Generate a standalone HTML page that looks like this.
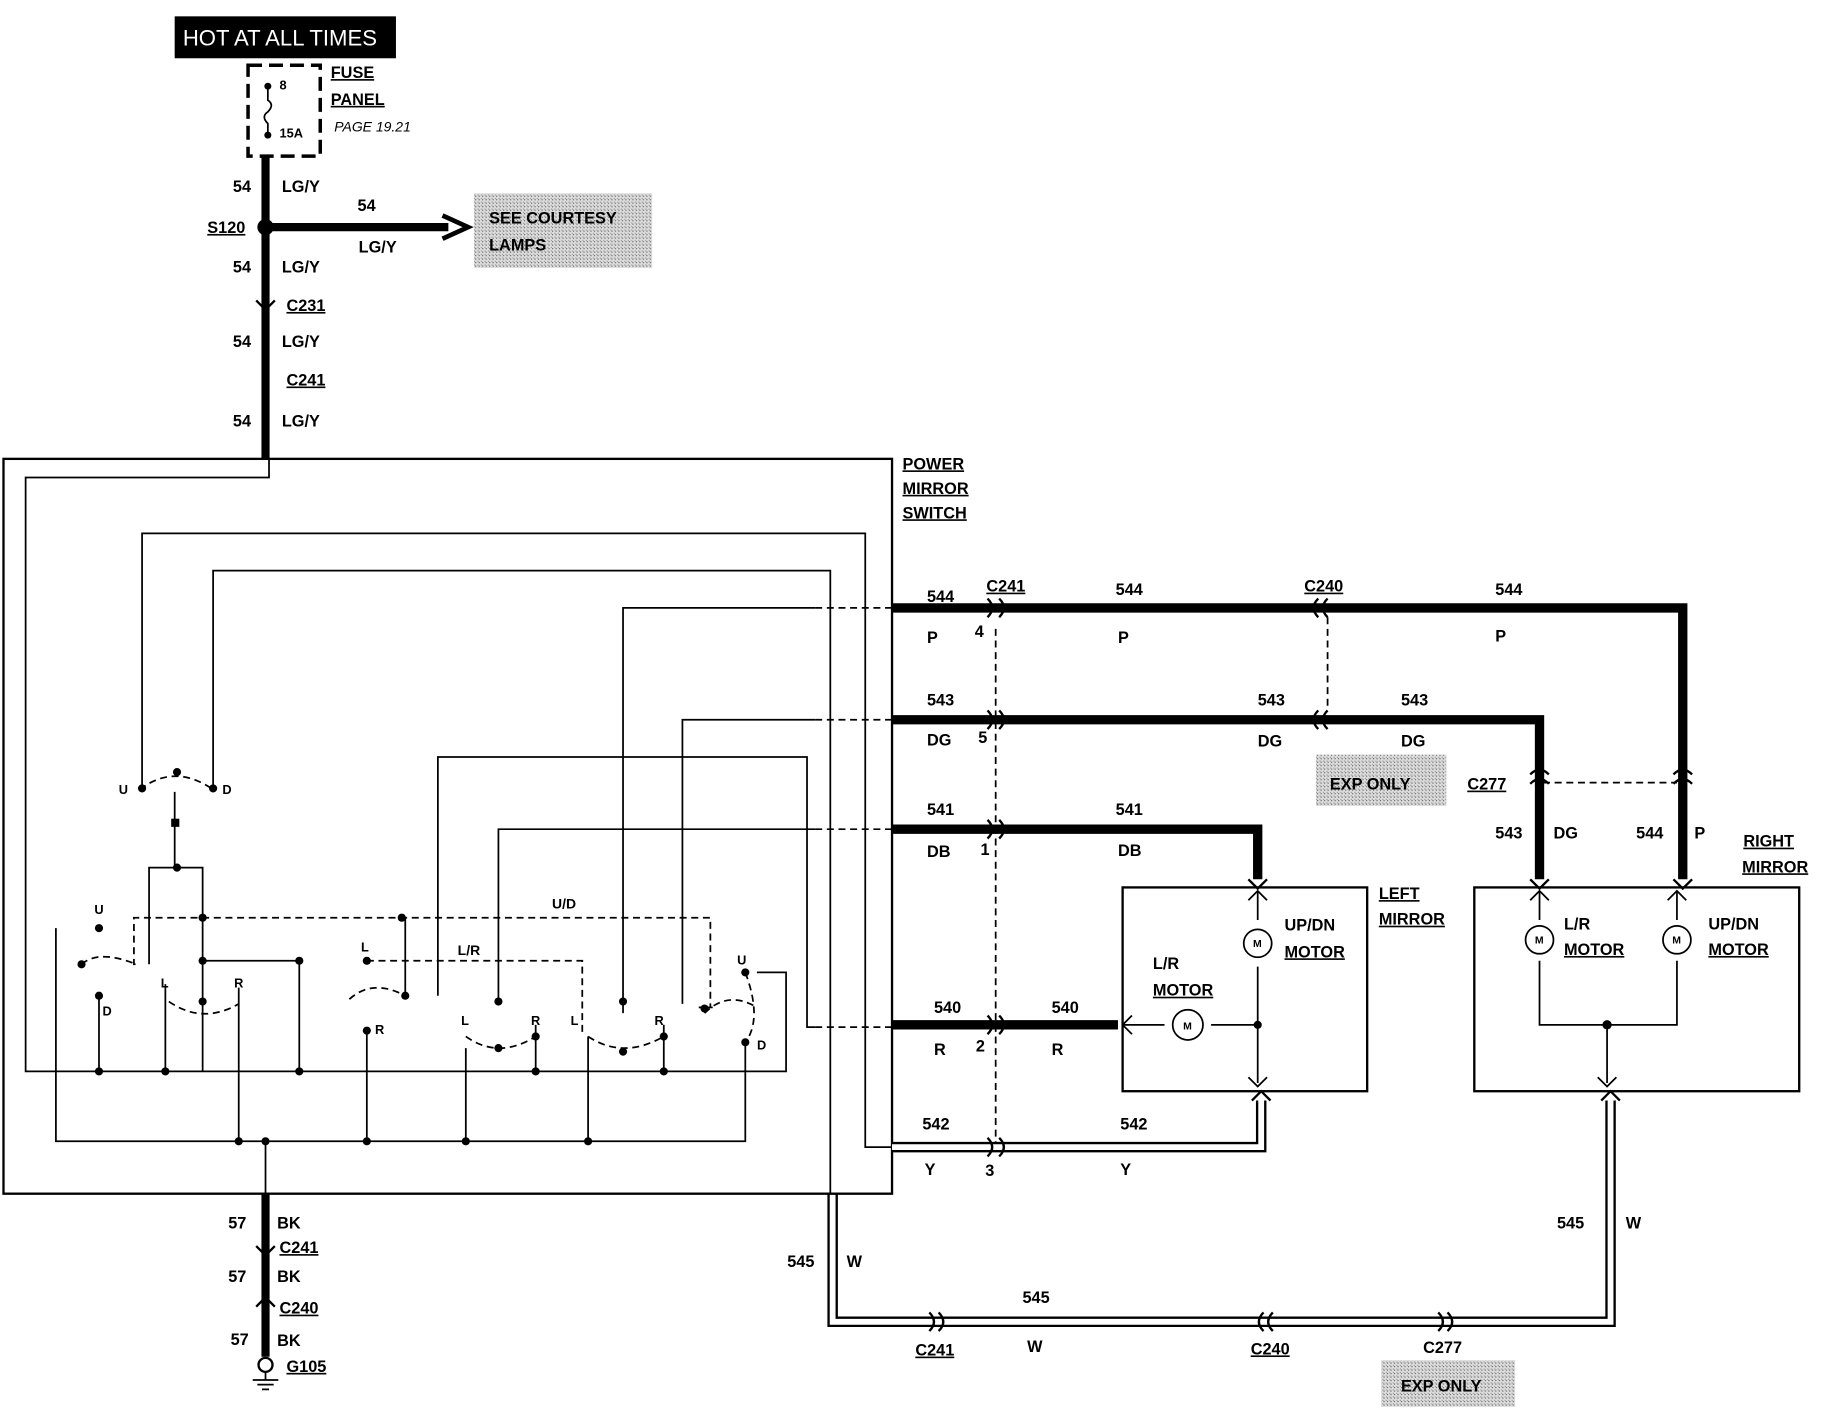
<!DOCTYPE html>
<html><head><meta charset="utf-8"><style>
html,body{margin:0;padding:0;background:#fff;}
svg{display:block}
text{font-family:"Liberation Sans",sans-serif;font-weight:bold;font-size:14px;fill:#000}
.u{text-decoration:underline}
</style></head><body>
<svg width="1826" height="1408" viewBox="0 0 1568 1209" xmlns="http://www.w3.org/2000/svg">
<defs>
<pattern id="g" width="3" height="3" patternUnits="userSpaceOnUse"><rect width="3" height="3" fill="#ddd"/><rect width="1" height="1" fill="#666"/><rect x="2" y="2" width="1" height="1" fill="#999"/></pattern>
</defs>
<rect x="150" y="14" width="190" height="36" fill="#000"/>
<text x="157" y="39" style="fill:#fff;font-size:19px;font-weight:normal">HOT AT ALL TIMES</text>
<rect x="213" y="56" width="62" height="78" fill="none" stroke="#000" stroke-width="3" stroke-dasharray="12,6"/>
<text x="240" y="77" style="font-size:11px">8</text><text x="240" y="118" style="font-size:11px">15A</text>
<circle cx="230" cy="74" r="3"/><circle cx="230" cy="116" r="3"/>
<path d="M230 74 v12 q6 4 0 10 q-6 4 0 10 v10" fill="none" stroke="#000" stroke-width="1.5"/>
<text x="284" y="67" class="u">FUSE</text><text x="284" y="90" class="u">PANEL</text>
<text x="287" y="113" style="font-style:italic;font-size:12px;font-weight:normal">PAGE 19.21</text>
<line x1="228" y1="134" x2="228" y2="395" stroke="#000" stroke-width="7"/>
<circle cx="228" cy="195" r="7"/>
<line x1="228" y1="195" x2="385" y2="195" stroke="#000" stroke-width="7"/>
<path d="M380 185 L402 195 L380 205" fill="none" stroke="#000" stroke-width="4"/>
<rect x="407" y="166" width="153" height="64" fill="url(#g)"/>
<text x="420" y="192">SEE COURTESY</text><text x="420" y="215">LAMPS</text>
<text x="200" y="165">54</text><text x="242" y="165">LG/Y</text>
<text x="307" y="181">54</text><text x="308" y="217">LG/Y</text>
<text x="178" y="200" class="u">S120</text>
<text x="200" y="234">54</text><text x="242" y="234">LG/Y</text>
<text x="246" y="267" class="u">C231</text><path d="M220 258 l8 8 l8 -8" fill="none" stroke="#000" stroke-width="2"/>
<text x="200" y="298">54</text><text x="242" y="298">LG/Y</text>
<text x="246" y="331" class="u">C241</text>
<text x="200" y="366">54</text><text x="242" y="366">LG/Y</text>
<!-- switch box -->
<rect x="3" y="394" width="763" height="631" fill="none" stroke="#000" stroke-width="2"/>
<text x="775" y="403" class="u">POWER</text><text x="775" y="424" class="u">MIRROR</text><text x="775" y="445" class="u">SWITCH</text>
<g fill="none" stroke="#000" stroke-width="1.5">
<path d="M231 395 V410 H22 V920 H675 V835 H650"/>
<path d="M122 675 V458 H743 V985 H766"/>
<path d="M183 675 V490 H713 V1025"/>
<path d="M535 870 V522 H700"/>
<path d="M428 860 V712 H700"/>
<path d="M586 862 V618 H700"/>
<path d="M376 855 V650 H693 V882 H700"/>
<path d="M48 797 V980 H640 V895"/>
<path d="M228 980 V1025"/>
<path d="M128 828 V745 H174 V920 M150 745 V680"/>
<path d="M174 825 H257 V920 M85 920 V855 M142 920 V845 M205 980 V848 M315 980 V885 M400 980 V900 M505 980 V890 M460 920 V880 M570 920 V880 M348 855 V788 M600 865 H612"/>
</g>
<g fill="none" stroke="#000" stroke-width="1.5" stroke-dasharray="6,4">
<path d="M700 522 H766 M700 618 H766 M700 712 H766 M700 882 H766"/>
<path d="M855 540 V985"/>
<path d="M1140 530 V610 M1325 672 H1440"/>
<path d="M120 678 Q150 655 183 678 M70 828 Q85 815 117 828 H115 V788 H610 V865 M300 858 Q320 840 348 855 M315 825 H500 V890 M145 860 Q174 880 205 862 M400 890 Q428 910 460 890 M505 890 Q535 910 570 890 M605 870 Q625 850 650 865 M640 835 Q655 875 640 895"/>
</g>
<g><circle cx="122" cy="677" r="3.5"/><circle cx="183" cy="677" r="3.5"/><circle cx="152" cy="663" r="3.5"/><rect x="147" y="703" width="7" height="7"/><circle cx="152" cy="745" r="3.5"/>
<circle cx="85" cy="797" r="3.5"/><circle cx="85" cy="855" r="3.5"/><circle cx="70" cy="828" r="3.5"/><circle cx="174" cy="788" r="3.5"/><circle cx="174" cy="825" r="3.5"/><circle cx="174" cy="860" r="3.5"/><circle cx="257" cy="825" r="3.5"/><circle cx="345" cy="788" r="3.5"/>
<circle cx="315" cy="825" r="3.5"/><circle cx="315" cy="885" r="3.5"/><circle cx="348" cy="855" r="3.5"/><circle cx="428" cy="860" r="3.5"/><circle cx="428" cy="900" r="3.5"/><circle cx="460" cy="890" r="3.5"/><circle cx="535" cy="860" r="3.5"/><circle cx="535" cy="903" r="3.5"/><circle cx="570" cy="890" r="3.5"/><circle cx="640" cy="835" r="3.5"/><circle cx="640" cy="895" r="3.5"/><circle cx="605" cy="866" r="3.5"/>
<circle cx="85" cy="920" r="3.5"/><circle cx="142" cy="920" r="3.5"/><circle cx="257" cy="920" r="3.5"/><circle cx="460" cy="920" r="3.5"/><circle cx="570" cy="920" r="3.5"/>
<circle cx="205" cy="980" r="3.5"/><circle cx="228" cy="980" r="3.5"/><circle cx="315" cy="980" r="3.5"/><circle cx="400" cy="980" r="3.5"/><circle cx="505" cy="980" r="3.5"/></g>
<g style="font-size:11px"><text x="102" y="682" style="font-size:11px">U</text><text x="191" y="682" style="font-size:11px">D</text><text x="81" y="785" style="font-size:11px">U</text><text x="88" y="872" style="font-size:11px">D</text><text x="138" y="848" style="font-size:11px">L</text><text x="201" y="848" style="font-size:11px">R</text><text x="310" y="817" style="font-size:11px">L</text><text x="322" y="888" style="font-size:11px">R</text><text x="396" y="880" style="font-size:11px">L</text><text x="456" y="880" style="font-size:11px">R</text><text x="490" y="880" style="font-size:11px">L</text><text x="562" y="880" style="font-size:11px">R</text><text x="633" y="828" style="font-size:11px">U</text><text x="650" y="901" style="font-size:11px">D</text><text x="474" y="780" style="font-size:12px">U/D</text><text x="393" y="820" style="font-size:12px">L/R</text></g>
<!-- right wires -->
<g fill="none" stroke="#000" stroke-width="8">
<path d="M766 522 H1445 V755"/><path d="M766 618 H1322 V755"/><path d="M766 712 H1080 V755"/><path d="M766 880 H960"/>
</g>
<g fill="none" stroke="#000" stroke-width="9"><path d="M766 985 H1083 V945"/><path d="M715 1025 V1135 H1383 V945"/></g>
<g fill="none" stroke="#fff" stroke-width="5"><path d="M766 985 H1083 V945"/><path d="M715 1026 V1135 H1383 V945"/></g>
<g fill="none" stroke="#000" stroke-width="2">
<path d="M848 514 q8 8 0 16 M858 514 q8 8 0 16 M848 610 q8 8 0 16 M858 610 q8 8 0 16 M848 704 q8 8 0 16 M858 704 q8 8 0 16 M848 872 q8 8 0 16 M858 872 q8 8 0 16 M848 977 q8 8 0 16 M858 977 q8 8 0 16 M1140 514 q-8 8 0 16 M1132 514 q-8 8 0 16 M1140 610 q-8 8 0 16 M1132 610 q-8 8 0 16 M1314 665 q8 -8 16 0 M1314 673 q8 -8 16 0 M1437 665 q8 -8 16 0 M1437 673 q8 -8 16 0 M798 1127 q8 8 0 16 M806 1127 q8 8 0 16 M1093 1127 q-8 8 0 16 M1085 1127 q-8 8 0 16 M1235 1127 q8 8 0 16 M1243 1127 q8 8 0 16 M1072 755 l8 8 l8 -8 M1314 755 l8 8 l8 -8 M1437 755 l8 8 l8 -8 M1375 945 l8 -8 l8 8 M1075 945 l8 -8 l8 8"/>
</g>
<!-- mirrors -->
<rect x="964" y="762" width="210" height="175" fill="none" stroke="#000" stroke-width="2"/>
<rect x="1266" y="762" width="279" height="175" fill="none" stroke="#000" stroke-width="2"/>
<g fill="none" stroke="#000" stroke-width="1.5">
<path d="M1080 765 V790 M1080 830 V930 M1080 880 H1040 M1000 880 H964 M1322 765 V790 M1322 825 V880 H1440 V825 M1440 765 V790 M1380 880 V930"/>
<circle cx="1080" cy="810" r="12"/><circle cx="1020" cy="880" r="13"/><circle cx="1322" cy="807" r="12"/><circle cx="1440" cy="807" r="12"/>
<path d="M1072 773 l8 -8 l8 8 M1314 773 l8 -8 l8 8 M1432 773 l8 -8 l8 8 M972 872 l-8 8 l8 8 M1072 925 l8 8 l8 -8 M1372 925 l8 8 l8 -8"/>
</g>
<circle cx="1080" cy="880" r="3.5"/><circle cx="1380" cy="880" r="4"/>
<g style="font-size:9px"><text x="1076" y="813" style="font-size:9px">M</text><text x="1016" y="884" style="font-size:9px">M</text><text x="1318" y="810" style="font-size:9px">M</text><text x="1436" y="810" style="font-size:9px">M</text></g>
<text x="1103" y="799">UP/DN</text><text x="1103" y="822" class="u">MOTOR</text>
<text x="990" y="832">L/R</text><text x="990" y="855" class="u">MOTOR</text>
<text x="1184" y="772" class="u">LEFT</text><text x="1184" y="794" class="u">MIRROR</text>
<text x="1343" y="798">L/R</text><text x="1343" y="820" class="u">MOTOR</text>
<text x="1467" y="798">UP/DN</text><text x="1467" y="820" class="u">MOTOR</text>
<text x="1497" y="727" class="u">RIGHT</text><text x="1496" y="749" class="u">MIRROR</text>
<!-- labels -->
<text x="796" y="517">544</text><text x="796" y="552">P</text><text x="837" y="547">4</text><text x="847" y="508" class="u">C241</text>
<text x="958" y="511">544</text><text x="960" y="552">P</text><text x="1120" y="508" class="u">C240</text><text x="1284" y="511">544</text><text x="1284" y="551">P</text>
<text x="796" y="606">543</text><text x="796" y="640">DG</text><text x="840" y="638">5</text><text x="1080" y="606">543</text><text x="1080" y="641">DG</text><text x="1203" y="606">543</text><text x="1203" y="641">DG</text>
<rect x="1130" y="648" width="112" height="44" fill="url(#g)"/><text x="1142" y="678">EXP ONLY</text>
<text x="1260" y="678" class="u">C277</text>
<text x="1284" y="720">543</text><text x="1334" y="720">DG</text><text x="1405" y="720">544</text><text x="1455" y="720">P</text>
<text x="796" y="700">541</text><text x="796" y="736">DB</text><text x="842" y="734">1</text><text x="958" y="700">541</text><text x="960" y="735">DB</text>
<text x="802" y="870">540</text><text x="802" y="906">R</text><text x="838" y="903">2</text><text x="903" y="870">540</text><text x="903" y="906">R</text>
<text x="792" y="970">542</text><text x="794" y="1009">Y</text><text x="846" y="1010">3</text><text x="962" y="970">542</text><text x="962" y="1009">Y</text>
<text x="676" y="1088">545</text><text x="727" y="1088">W</text><text x="878" y="1119">545</text><text x="882" y="1161">W</text>
<text x="786" y="1164" class="u">C241</text><text x="1074" y="1163" class="u">C240</text><text x="1222" y="1162">C277</text>
<rect x="1186" y="1168" width="115" height="40" fill="url(#g)"/><text x="1203" y="1195">EXP ONLY</text>
<text x="1337" y="1055">545</text><text x="1396" y="1055">W</text>
<!-- ground -->
<line x1="228" y1="1025" x2="228" y2="1165" stroke="#000" stroke-width="7"/>
<path d="M220 1070 l8 8 l8 -8 M220 1122 l8 -8 l8 8" fill="none" stroke="#000" stroke-width="2"/>
<circle cx="228" cy="1172" r="6" fill="#fff" stroke="#000" stroke-width="2"/>
<path d="M228 1178 V1185 M217 1185 H239 M221 1189 H235 M225 1193 H231" stroke="#000" stroke-width="1.5"/>
<text x="196" y="1055">57</text><text x="238" y="1055">BK</text><text x="240" y="1076" class="u">C241</text>
<text x="196" y="1101">57</text><text x="238" y="1101">BK</text><text x="240" y="1128" class="u">C240</text>
<text x="198" y="1155">57</text><text x="238" y="1156">BK</text><text x="246" y="1178" class="u">G105</text>
</svg>
</body></html>
